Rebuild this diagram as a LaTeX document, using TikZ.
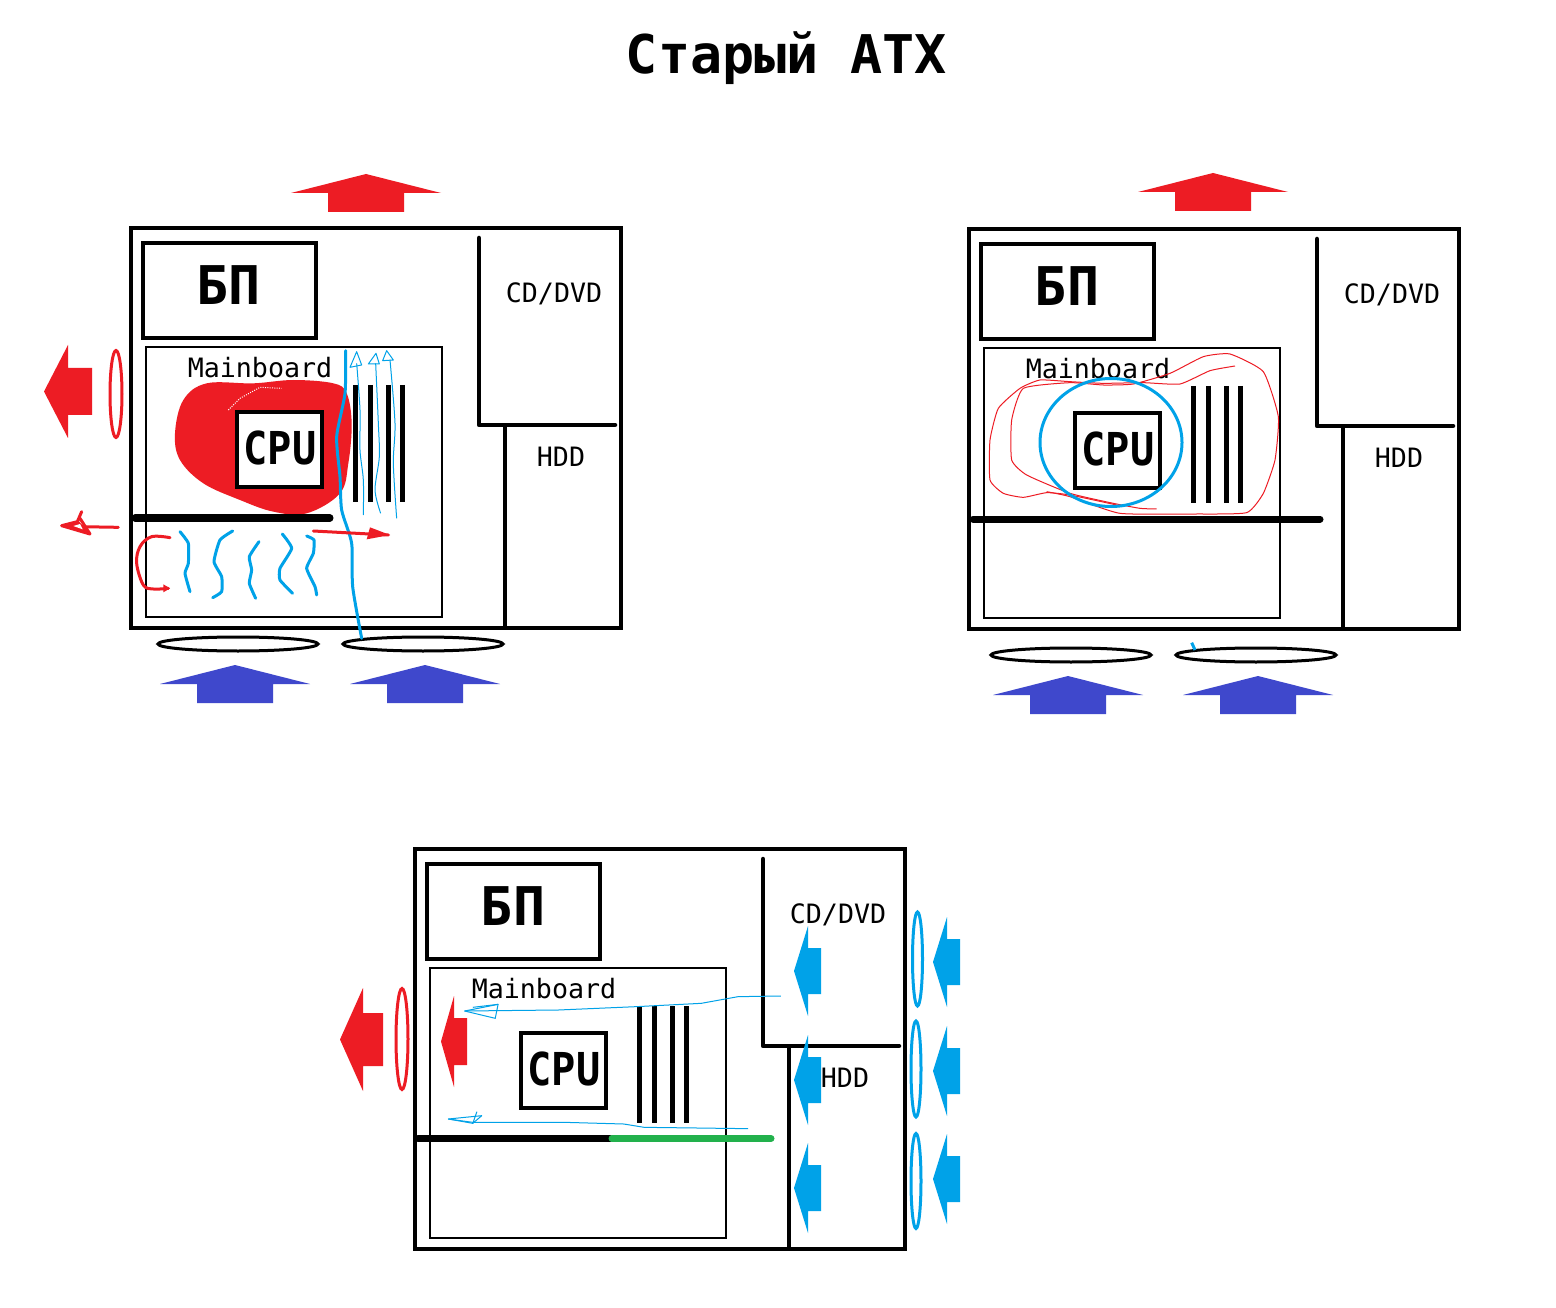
\documentclass[tikz,border=0pt]{standalone}
\usepackage{fontspec}
\usepackage{graphicx}
\usetikzlibrary{shapes.geometric}
\newfontfamily\atxmono{DejaVu Sans Mono}
\definecolor{hotred}{RGB}{237,28,36}
\definecolor{coolblue}{RGB}{0,162,232}
\definecolor{fanblue}{RGB}{63,72,204}
\definecolor{railgreen}{RGB}{34,177,76}
\tikzset{
  px/.style={line width=#1*0.75pt},
  boxed/.style={draw,outer sep=0pt,inner sep=0pt},
  lab/.style={font=\atxmono\fontsize{20}{24}\selectfont,inner sep=0pt,text=black},
  bigcap/.style={font=\atxmono\bfseries\fontsize{40}{48}\selectfont,inner sep=0pt},
  cpulab/.style={font=\atxmono\bfseries\fontsize{34}{40}\selectfont,inner sep=0pt},
  titlelab/.style={font=\atxmono\bfseries\fontsize{40}{48}\selectfont,inner sep=0pt},
  thinblue/.style={draw=coolblue,px=1,line join=round},
  wave/.style={draw=coolblue,px=3,line cap=round,line join=round},
  thinred/.style={draw=hotred,px=1,line join=round},
  redpen/.style={draw=hotred,px=3,line cap=round,line join=round},
}
% up arrow: centre x, apex y
\newcommand\uparr[3]{\fill[#1] (#2-75,#3+19) -- (#2,#3) -- (#2+75,#3+19) -- (#2+38,#3+19) -- (#2+38,#3+38) -- (#2-38,#3+38) -- (#2-38,#3+19) -- cycle;}
% left arrow: colour, tip x, head x, right x, top, bottom, shaft top, shaft bottom
\newcommand\leftarr[8]{\fill[#1] (#2,{(#5+#6)/2}) -- (#3,#5) -- (#3,#7) -- (#4,#7) -- (#4,#8) -- (#3,#8) -- (#3,#6) -- cycle;}
% case: prefix, dx, dy
\newcommand\atxcase[3]{%
\begin{scope}[shift={(#2,#3)}]
  \node[boxed,px=4.5,minimum width=490*0.75pt,minimum height=400*0.75pt,anchor=north west] (#1case) at (131,228) {};
  \node[boxed,px=4.5,minimum width=173*0.75pt,minimum height=95*0.75pt,anchor=north west] (#1psu) at (143,243) {};
  \node[bigcap] (#1psutext) at (229,285.5) {БП};
  \node[boxed,px=2,minimum width=296*0.75pt,minimum height=270*0.75pt,anchor=north west] (#1board) at (146,347) {};
  \coordinate (#1a) at (479,238);
  \coordinate (#1b) at (479,425);
  \coordinate (#1c) at (615,425);
  \coordinate (#1d) at (505,425);
  \coordinate (#1e) at (505,628);
  \draw[px=4.5,line cap=round,line join=round] (#1a) -- (#1b) -- (#1c);
  \draw[px=4.5] (#1d) -- (#1e);
  \foreach \sx in {355.5,370.5,388.5,402.5}
    \draw[px=5] (\sx,385) -- (\sx,502);
\end{scope}}
\newcommand\atxlabels[3]{%
\begin{scope}[shift={(#2,#3)}]
  \node[lab] (#1cd) at (554,293.5) {CD/DVD};
  \node[lab] (#1hdd) at (561,457) {HDD};
  \node[lab] (#1mb) at (260,368) {Mainboard};
  \node[boxed,px=4.5,fill=white,minimum width=85*0.75pt,minimum height=75*0.75pt] (#1cpu) at (279.5,449.5) {};
  \node[cpulab] (#1cputext) at (280,448) {\scalebox{0.89}[1]{CPU}};
\end{scope}}
\begin{document}
\begin{tikzpicture}[x=0.75pt,y=-0.75pt]
\useasboundingbox (0,0) rectangle (1556,1308);
\fill[white] (0,0) rectangle (1556,1308);
\node[titlelab] (title) at (786.5,58) {Старый ATX};

% ---------- panel 1
\atxcase{p}{0}{0}
\begin{scope}[shift={(40,330)},x=.25pt,y=-.25pt]
  \fill[hotred] plot[smooth cycle,tension=.6] coordinates {(405,310) (430,210) (500,160) (640,160) (760,150) (880,160) (920,190) (935,280) (925,400) (900,490) (800,550) (700,545) (600,510) (490,460) (420,390)};
  \draw[white,px=1,densely dotted] (565,240) -- (600,205) -- (660,172) -- (725,175);
\end{scope}
\atxlabels{p}{0}{0}
\draw[px=7,line cap=round] (135,518) -- (330,518);
\uparr{hotred}{366}{174}
\uparr{fanblue}{235}{665}
\uparr{fanblue}{425}{665}
\node[draw,px=3,ellipse,minimum width=160*0.75pt,minimum height=14*0.75pt,inner sep=0pt,outer sep=0pt] (pf1) at (238,644) {};
\node[draw,px=3,ellipse,minimum width=160*0.75pt,minimum height=14*0.75pt,inner sep=0pt,outer sep=0pt] (pf2) at (423,644) {};
\leftarr{hotred}{44}{68}{92}{345}{438}{368}{415}
\node[draw=hotred,px=3,ellipse,minimum width=12*0.75pt,minimum height=87*0.75pt,inner sep=0pt] (pf3) at (116,394) {};
\begin{scope}[shift={(40,330)},x=.25pt,y=-.25pt]
  \draw[wave] plot[smooth,tension=.4] coordinates {(917,62) (915,190) (890,320) (900,440) (905,540) (935,640) (938,770) (965,925)};
  \draw[thinblue] plot[smooth,tension=.5] coordinates {(950,100) (960,240) (960,360) (970,450) (970,555)};
  \draw[thinblue] plot[smooth,tension=.5] coordinates {(1007,100) (1015,280) (1018,380) (1005,480) (1022,550)};
  \draw[thinblue] plot[smooth,tension=.5] coordinates {(1050,90) (1065,280) (1060,400) (1070,565)};
  \draw[thinblue] (930,112) -- (950,65) -- (965,105) -- cycle;
  \draw[thinblue] (985,102) -- (1008,70) -- (1018,102) -- cycle;
  \draw[thinblue] (1028,92) -- (1040,62) -- (1060,90) -- cycle;
  \draw[wave] plot[smooth,tension=.3] coordinates {(420,605) (445,640) (445,700) (435,730) (450,785)};
  \draw[wave] plot[smooth,tension=.3] coordinates {(578,603) (540,630) (522,695) (545,740) (545,785) (518,803)};
  \draw[wave] plot[smooth,tension=.3] coordinates {(657,635) (628,680) (635,720) (628,760) (647,805)};
  \draw[wave] plot[smooth,tension=.3] coordinates {(727,612) (755,655) (720,715) (720,750) (758,790)};
  \draw[wave] plot[smooth,tension=.3] coordinates {(800,618) (822,630) (820,670) (800,715) (825,770) (830,795)};
  \draw[redpen] (235,592) -- (120,590);
  \fill[hotred] (65,587) -- (118,575) -- (150,612) -- cycle;
  \fill[white] (100,588) -- (120,582) -- (128,598) -- cycle;
  \draw[redpen] (125,545) -- (112,575) -- (65,587) -- (150,612) -- (120,565);
  \draw[redpen] plot[smooth,tension=.6] coordinates {(390,623) (335,620) (300,650) (290,700) (310,765) (340,777) (385,775)};
  \fill[hotred] (370,763) -- (390,775) -- (370,787) -- cycle;
  \draw[redpen] (820,603) -- (1045,615);
  \fill[hotred] (990,592) -- (1050,615) -- (980,628) -- cycle;
\end{scope}

% ---------- panel 2
\atxcase{q}{838}{1}
\atxlabels{q}{838}{1}
\draw[px=7,line cap=round] (973,519) -- (1320,519);
\uparr{hotred}{1213}{173}
\uparr{fanblue}{1068}{676}
\uparr{fanblue}{1258}{676}
\node[draw,px=3,ellipse,minimum width=160*0.75pt,minimum height=14*0.75pt,inner sep=0pt,outer sep=0pt] (qf1) at (1071,655) {};
\node[draw,px=3,ellipse,minimum width=160*0.75pt,minimum height=14*0.75pt,inner sep=0pt,outer sep=0pt] (qf2) at (1256,655) {};
\begin{scope}[shift={(970,340)},x=.25pt,y=-.25pt]
  \draw[thinred] plot[smooth,tension=.3] coordinates {(795,78) (720,92) (630,132) (520,128) (400,130) (300,125) (210,120) (150,145) (85,205) (60,300) (60,420) (100,460) (160,472) (230,458) (300,465) (440,495)};
  \draw[thinred] plot[smooth,tension=.3] coordinates {(560,507) (510,505) (430,490) (300,460) (170,405) (125,360) (125,240) (160,145) (300,128) (400,135) (490,132) (600,100) (700,50) (780,42) (880,95) (925,230) (915,360) (880,460) (830,518) (680,522) (450,520) (300,470) (230,455)};
  \draw[coolblue,px=3] (665,908) -- (675,930);
\end{scope}
\node[draw=coolblue,px=3,ellipse,minimum width=142*0.75pt,minimum height=128*0.75pt,inner sep=0pt] (qfan) at (1111,442.5) {};

% ---------- panel 3
\atxcase{r}{284}{621}
\atxlabels{r}{284}{621}
\draw[px=7,line cap=round] (418,1138.5) -- (610,1138.5);
\draw[draw=railgreen,px=7,line cap=round] (612,1138.5) -- (771,1138.5);
\leftarr{hotred}{340}{363}{383}{988}{1091}{1013}{1066}
\node[draw=hotred,px=3,ellipse,minimum width=12*0.75pt,minimum height=101*0.75pt,inner sep=0pt] (rf1) at (402,1039) {};
\leftarr{hotred}{441}{454}{467}{996}{1087}{1018}{1065}
\leftarr{coolblue}{794}{808}{821}{926}{1016}{948}{994}
\leftarr{coolblue}{794}{808}{821}{1035}{1125}{1057}{1103}
\leftarr{coolblue}{794}{808}{821}{1143}{1233}{1165}{1211}
\leftarr{coolblue}{933}{947}{960}{917}{1007}{939}{985}
\leftarr{coolblue}{933}{947}{960}{1026}{1116}{1048}{1094}
\leftarr{coolblue}{933}{947}{960}{1134}{1224}{1156}{1202}
\node[draw=coolblue,px=3,ellipse,minimum width=10*0.75pt,minimum height=94*0.75pt,inner sep=0pt] (rf2) at (917.5,959) {};
\node[draw=coolblue,px=3,ellipse,minimum width=10*0.75pt,minimum height=96*0.75pt,inner sep=0pt] (rf3) at (916,1069) {};
\node[draw=coolblue,px=3,ellipse,minimum width=10*0.75pt,minimum height=95*0.75pt,inner sep=0pt] (rf4) at (916,1181) {};
\begin{scope}[shift={(330,900)},x=.306pt,y=-.25pt]
  \draw[thinblue] (1105,288) -- (1000,290) -- (910,310) -- (750,320) -- (560,330) -- (330,333);
  \draw[thinblue] (330,333) -- (412,313) -- (405,355) -- cycle;
  \draw[thinblue] (350,322) -- (412,313);
  \draw[thinblue] (1025,686) -- (900,684) -- (770,682) -- (720,672) -- (575,667) -- (350,667) -- (290,657);
  \draw[thinblue] (290,657) -- (372,647) -- (350,670) -- cycle;
  \draw[thinblue] (350,670) -- (360,635);
\end{scope}
\end{tikzpicture}
\end{document}
